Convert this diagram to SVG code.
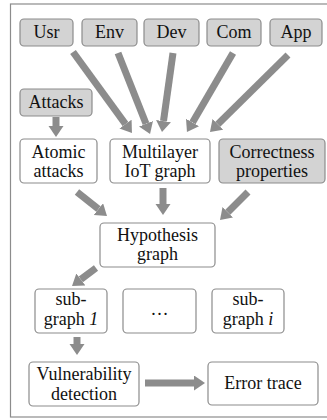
<svg xmlns="http://www.w3.org/2000/svg" width="327" height="420" viewBox="0 0 327 420" font-family="'Liberation Serif', 'Times New Roman', 'DejaVu Serif', serif">
<style>
.box{fill:#fff;stroke:#8c8c8c;stroke-width:1.2}
.g{fill:#d3d3d3}
text{font-family:'Liberation Serif','Times New Roman','DejaVu Serif',serif;font-size:18px;fill:#111;text-anchor:middle}
.c line{stroke:#8c8c8c;stroke-width:7;marker-end:url(#ah)}
</style>
<defs>
<marker id="ah" markerUnits="userSpaceOnUse" markerWidth="12" markerHeight="16" refX="0" refY="7.5" orient="auto" viewBox="0 0 12 16">
<path d="M0,0 L11,7.5 L0,15 Z" fill="#8c8c8c"/>
</marker>
</defs>
<rect x="0" y="0" width="327" height="420" fill="#fff"/>
<rect x="10.5" y="4" width="330" height="413" fill="none" stroke="#8c8c8c" stroke-width="1.2"/>
<g id="usr"><rect class="box g" x="20" y="19" width="53" height="27" rx="4"/><text x="46.5" y="38">Usr</text></g>
<g id="env"><rect class="box g" x="82" y="19" width="55" height="27" rx="4"/><text x="109.5" y="38">Env</text></g>
<g id="dev"><rect class="box g" x="144" y="19" width="55" height="27" rx="4"/><text x="171.5" y="38">Dev</text></g>
<g id="com"><rect class="box g" x="207" y="19" width="54" height="27" rx="4"/><text x="234" y="38">Com</text></g>
<g id="app"><rect class="box g" x="270" y="19" width="52" height="27" rx="4"/><text x="296" y="38">App</text></g>
<g id="attacks"><rect class="box g" x="20" y="89" width="72" height="27" rx="4"/><text x="56" y="108">Attacks</text></g>
<g id="atomic"><rect class="box" x="20" y="139" width="77" height="44" rx="4"/><text x="58.5" y="158">Atomic</text><text x="58.5" y="177">attacks</text></g>
<g id="multilayer"><rect class="box" x="110" y="139" width="100" height="44" rx="4"/><text x="160" y="158">Multilayer</text><text x="160" y="177">IoT graph</text></g>
<g id="correctness"><rect class="box g" x="219" y="139" width="106" height="44" rx="4"/><text x="272" y="158">Correctness</text><text x="272" y="177">properties</text></g>
<g id="hypothesis"><rect class="box" x="100" y="223" width="115" height="44" rx="4"/><text x="157.5" y="241">Hypothesis</text><text x="157.5" y="260">graph</text></g>
<g id="sub1"><rect class="box" x="35" y="289" width="72" height="44" rx="4"/><text x="71" y="305">sub-</text><text x="71" y="325">graph <tspan font-style="italic">1</tspan></text></g>
<g id="dots"><rect class="box" x="123" y="289" width="73" height="44" rx="4"/><text x="159.5" y="315">…</text></g>
<g id="subi"><rect class="box" x="212" y="289" width="72" height="44" rx="4"/><text x="248" y="305">sub-</text><text x="248" y="325">graph <tspan font-style="italic">i</tspan></text></g>
<g id="vuln"><rect class="box" x="29" y="362" width="110" height="44" rx="4"/><text x="84" y="380">Vulnerability</text><text x="84" y="400">detection</text></g>
<g id="error"><rect class="box" x="208" y="362" width="110" height="43" rx="4"/><text x="263" y="389">Error trace</text></g>
<g id="connectors" class="c">
<line x1="73" y1="52" x2="125.5" y2="124.1"/>
<line x1="118" y1="53" x2="146" y2="123.8"/>
<line x1="173" y1="53" x2="163.5" y2="121.1"/>
<line x1="233" y1="53" x2="192.5" y2="122.5"/>
<line x1="288" y1="55" x2="217.8" y2="124.3"/>
<line x1="56" y1="117" x2="56" y2="126"/>
<line x1="77" y1="192" x2="98.4" y2="209.1"/>
<line x1="163" y1="188" x2="163" y2="204"/>
<line x1="248" y1="192" x2="227.8" y2="212.2"/>
<line x1="96" y1="268" x2="80.8" y2="279.4"/>
<line x1="77" y1="337" x2="77" y2="344"/>
<line x1="145" y1="383" x2="194" y2="383"/>
</g>
</svg>
